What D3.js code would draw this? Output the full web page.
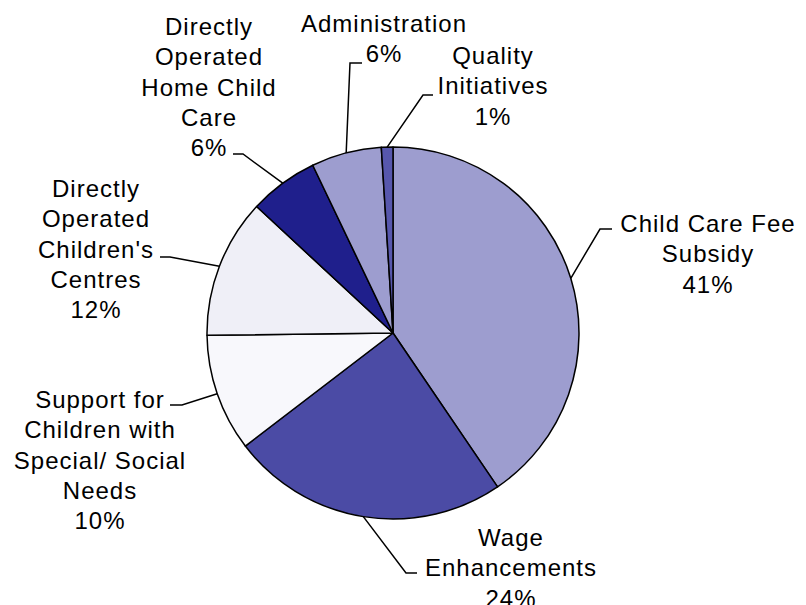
<!DOCTYPE html>
<html>
<head>
<meta charset="utf-8">
<script src="https://cdn.jsdelivr.net/npm/d3@7"></script>
<style>
  html, body { margin: 0; padding: 0; background: #fff; }
  svg text { font-family: "Liberation Sans", Arial, sans-serif; font-size: 24px; letter-spacing: 1px; fill: #000; }
</style>
</head>
<body>
<svg id="chart" width="806" height="605"></svg>
<script>
// ---- data ----
const categories = [
  "Child Care Fee Subsidy",
  "Wage Enhancements",
  "Support for Children with Special/ Social Needs",
  "Directly Operated Children's Centres",
  "Directly Operated Home Child Care",
  "Administration",
  "Quality Initiatives"
];
const labelLines = [
  ["Child Care  Fee", "Subsidy"],
  ["Wage", "Enhancements"],
  ["Support for", "Children with", "Special/ Social", "Needs"],
  ["Directly", "Operated", "Children's", "Centres"],
  ["Directly", "Operated", "Home Child", "Care"],
  ["Administration"],
  ["Quality", "Initiatives"]
];
const values = [40.5, 24.1, 10.2, 12.1, 6.0, 6.1, 1.0];

// ---- styles / layout ----
const colors = ["#9d9dcf", "#4b4ba5", "#f8f8fc", "#efeff7", "#1f1f8c", "#9d9dcf", "#5757ad"];
// label block centre x, first baseline y, leader elbow, leader end
const labelLayout = [
  { x: 708, y: 232, elbow: [600, 229], end: [612, 229] },
  { x: 511, y: 546, elbow: [406, 573], end: [417, 573] },
  { x: 100, y: 408, elbow: [182, 405], end: [170, 405] },
  { x: 96,  y: 197, elbow: [170, 257], end: [160, 257] },
  { x: 209, y: 35,  elbow: [243, 154], end: [233, 154] },
  { x: 384, y: 32,  elbow: [350, 63],  end: [362, 63] },
  { x: 493, y: 64,  elbow: [423, 95],  end: [433, 95] }
];
const lineH = 30.3;
const cx = 393, cy = 333, R = 186;

const svg = d3.select("#chart");
const total = d3.sum(values);
const pie = d3.pie().sort(null).value(d => d).startAngle(0).endAngle(2 * Math.PI);
const arcs = pie(values);
const arc = d3.arc().innerRadius(0).outerRadius(R);

const g = svg.append("g").attr("transform", `translate(${cx},${cy})`);
g.selectAll("path.slice")
  .data(arcs)
  .enter().append("path")
  .attr("class", "slice")
  .attr("d", arc)
  .attr("fill", (d, i) => colors[i])
  .attr("stroke", "#000")
  .attr("stroke-width", 1.5)
  .attr("stroke-linejoin", "round");

// leader lines
arcs.forEach((d, i) => {
  const mid = (d.startAngle + d.endAngle) / 2;
  const sx = cx + R * Math.sin(mid);
  const sy = cy - R * Math.cos(mid);
  const L = labelLayout[i];
  svg.append("polyline")
    .attr("points", `${sx},${sy} ${L.elbow[0]},${L.elbow[1]} ${L.end[0]},${L.end[1]}`)
    .attr("fill", "none")
    .attr("stroke", "#000")
    .attr("stroke-width", 1.5);
});

// labels
arcs.forEach((d, i) => {
  const L = labelLayout[i];
  const lines = labelLines[i].concat([Math.round(values[i] / total * 100) + "%"]);
  const t = svg.append("text").attr("text-anchor", "middle");
  lines.forEach((ln, j) => {
    t.append("tspan")
      .attr("x", L.x)
      .attr("y", L.y + j * lineH)
      .text(ln);
  });
});
</script>
</body>
</html>
